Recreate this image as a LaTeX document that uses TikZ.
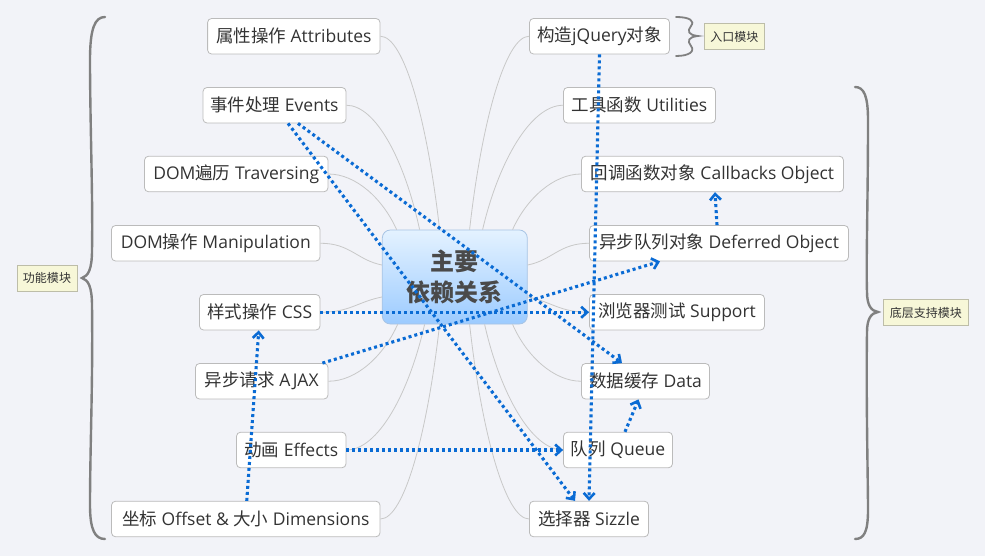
\documentclass[tikz,border=0pt]{standalone}
\usepackage{fontspec}
\setmainfont{Open Sans}
\newfontfamily\cjk{Noto Sans CJK SC}
\usetikzlibrary{arrows.meta}
\definecolor{bg}{HTML}{F2F3F8}
\definecolor{nodeborder}{HTML}{BBBBBB}
\definecolor{nodetext}{HTML}{333333}
\definecolor{branchgray}{HTML}{C8C8C8}
\definecolor{depblue}{HTML}{0A6BD4}
\definecolor{bracegray}{HTML}{808080}
\definecolor{tagfill}{HTML}{F7F7D8}
\definecolor{tagborder}{HTML}{BDBDA8}
\definecolor{coretop}{HTML}{E4F2FF}
\definecolor{corebot}{HTML}{9CCBFF}
\definecolor{coreborder}{HTML}{A8C4E4}
\definecolor{coretext}{HTML}{4A4A4A}
\begin{document}
\begin{tikzpicture}[x=1pt,y=-1pt,
  topicbox/.style={draw=nodeborder, fill=white, rounded corners=4pt, line width=0.8pt,
    inner sep=0pt, minimum height=35.5pt, text=nodetext, font=\fontsize{17.5}{20}\selectfont},
  tagbox/.style={draw=tagborder, fill=tagfill, line width=0.8pt, inner sep=0pt,
    minimum height=26pt, text=nodetext, font=\fontsize{12}{14}\selectfont\cjk},
  corebox/.style={draw=coreborder, top color=coretop, bottom color=corebot, rounded corners=8pt,
    line width=0.8pt, inner sep=0pt, minimum width=145pt, minimum height=94pt, align=center,
    text=coretext, font=\fontsize{24}{31}\selectfont\cjk\bfseries},
  branchline/.style={draw=branchgray, line width=0.8pt},
  deparrow/.style={draw=depblue, line width=3.1pt, dash pattern=on 3pt off 3pt,
    -{Straight Barb[length=6pt,width=11pt,line width=2.6pt]}},
  bracestyle/.style={draw=bracegray, line width=2.4pt, line cap=round}
]
\useasboundingbox[fill=bg] (0,0) rectangle (985,556);

% central topic
\node[corebox] (core) at (454.8,277) {主要\\依赖关系};

% left topics
\node[topicbox, minimum width=172.4pt] (attr) at (293.8,36.25) {{\cjk 属性操作} Attributes};
\node[topicbox, minimum width=143pt] (events) at (274.5,105.25) {{\cjk 事件处理} Events};
\node[topicbox, minimum width=183.5pt] (trav) at (236.25,174) {DOM{\cjk 遍历} Traversing};
\node[topicbox, minimum width=208.5pt] (manip) at (215.75,243.25) {DOM{\cjk 操作} Manipulation};
\node[topicbox, minimum width=120.5pt] (css) at (259.75,312.25) {{\cjk 样式操作} CSS};
\node[topicbox, minimum width=132.5pt] (ajax) at (261.75,381.25) {{\cjk 异步请求} AJAX};
\node[topicbox, minimum width=109.5pt] (effects) at (291.25,450) {{\cjk 动画} Effects};
\node[topicbox, minimum width=268.5pt] (dim) at (245.75,519) {{\cjk 坐标} Offset \& {\cjk 大小} Dimensions};

% right topics
\node[topicbox, minimum width=140pt] (jq) at (599.5,36.25) {{\cjk 构造}jQuery{\cjk 对象}};
\node[topicbox, minimum width=152pt] (util) at (639.5,105.25) {{\cjk 工具函数} Utilities};
\node[topicbox, minimum width=262pt] (cb) at (712.5,174) {{\cjk 回调函数对象} Callbacks Object};
\node[topicbox, minimum width=259pt] (def) at (719,243.25) {{\cjk 异步队列对象} Deferred Object};
\node[topicbox, minimum width=175pt] (sup) at (677,312.25) {{\cjk 浏览器测试} Support};
\node[topicbox, minimum width=128pt] (data) at (645.5,381.25) {{\cjk 数据缓存} Data};
\node[topicbox, minimum width=109pt] (queue) at (618,450) {{\cjk 队列} Queue};
\node[topicbox, minimum width=119pt] (sizzle) at (589,519) {{\cjk 选择器} Sizzle};

% summary tags
\node[tagbox, minimum width=60pt] (tagfunc) at (47,278) {功能模块};
\node[tagbox, minimum width=60.5pt] (tagentry) at (734.25,36.5) {入口模块};
\node[tagbox, minimum width=85.5pt] (tagbase) at (925.75,312.5) {底层支持模块};

% branch lines
\draw[branchline] (attr.east) .. controls +(24,0) and +(-12,-106.7) .. ([xshift=57.7pt]core.north west);
\draw[branchline] (events.east) .. controls +(29.6,0) and +(-14.8,-68.75) .. ([xshift=37.7pt]core.north west);
\draw[branchline] (trav.east) .. controls +(27.6,0) and +(-13.8,-30.8) .. ([xshift=14.7pt]core.north west);
\draw[branchline] (manip.east) .. controls +(30,0) and +(-25,-5) .. ([yshift=12pt]core.west);
\draw[branchline] (css.east) .. controls +(30,0) and +(-25,5) .. ([yshift=-20pt]core.west);
\draw[branchline] (ajax.east) .. controls +(28,0) and +(-14,31.5) .. ([xshift=15.7pt]core.south west);
\draw[branchline] (effects.east) .. controls +(31.6,0) and +(-15.8,69.3) .. ([xshift=42.7pt]core.south west);
\draw[branchline] (dim.east) .. controls +(24,0) and +(-12,107.25) .. ([xshift=57.7pt]core.south west);
\draw[branchline] (jq.west) .. controls +(-23.8,0) and +(11.9,-106.6) .. ([xshift=87.7pt]core.north west);
\draw[branchline] (util.west) .. controls +(-32.2,0) and +(16.1,-68.6) .. ([xshift=100.7pt]core.north west);
\draw[branchline] (cb.west) .. controls +(-27.4,0) and +(13.7,-30.8) .. ([xshift=130.7pt]core.north west);
\draw[branchline] (def.west) .. controls +(-30,0) and +(25,-5) .. ([yshift=12pt]core.east);
\draw[branchline] (sup.west) .. controls +(-30,0) and +(25,5) .. ([yshift=-20pt]core.east);
\draw[branchline] (data.west) .. controls +(-27.4,0) and +(13.7,31.5) .. ([xshift=130.7pt]core.south west);
\draw[branchline] (queue.west) .. controls +(-31.4,0) and +(15.7,69.3) .. ([xshift=102.7pt]core.south west);
\draw[branchline] (sizzle.west) .. controls +(-23.8,0) and +(11.9,107.25) .. ([xshift=87.7pt]core.south west);

% braces
\draw[bracestyle] (105,17) .. controls (95,17) and (90,28) .. (90,60)
  .. controls (90,120) and (93,200) .. (92,250)
  .. controls (92,270) and (88,276) .. (82,278)
  .. controls (88,280) and (92,286) .. (92,306)
  .. controls (93,380) and (90,450) .. (90,505)
  .. controls (90,530) and (95,539) .. (105,539);
\draw[bracestyle] (855,87) .. controls (864,87) and (868,96) .. (868,120)
  .. controls (868,200) and (866,260) .. (867,292)
  .. controls (867,305) and (871,311) .. (878,312)
  .. controls (871,313) and (867,319) .. (867,332)
  .. controls (866,400) and (868,480) .. (868,510)
  .. controls (868,532) and (864,539) .. (855,539);
\draw[bracestyle, line width=1.8pt] (676,17) .. controls (690,17) and (695,21) .. (691,26)
  .. controls (687,31) and (688,35) .. (698,36)
  .. controls (688,37) and (687,41) .. (691,46)
  .. controls (695,51) and (690,56) .. (676,56);

% dependency arrows
\draw[deparrow] (jq.south) -- (sizzle.north);
\draw[deparrow] ([xshift=13.5pt]events.south) -- ([xshift=-14pt]sizzle.north);
\draw[deparrow] ([xshift=23.5pt]events.south) -- ([xshift=-23.5pt]data.north);
\draw[deparrow] (css.east) -- (sup.west);
\draw[deparrow] ([xshift=-6pt]ajax.north east) -- ([xshift=-59pt]def.south);
\draw[deparrow] ([xshift=-2pt]def.north) -- ([xshift=2.5pt]cb.south);
\draw[deparrow] ([xshift=1pt]dim.north) -- ([xshift=-1pt]css.south);
\draw[deparrow] (effects.east) -- (queue.west);
\draw[deparrow] ([xshift=7pt]queue.north) -- ([xshift=-7pt]data.south);
\end{tikzpicture}
\end{document}
